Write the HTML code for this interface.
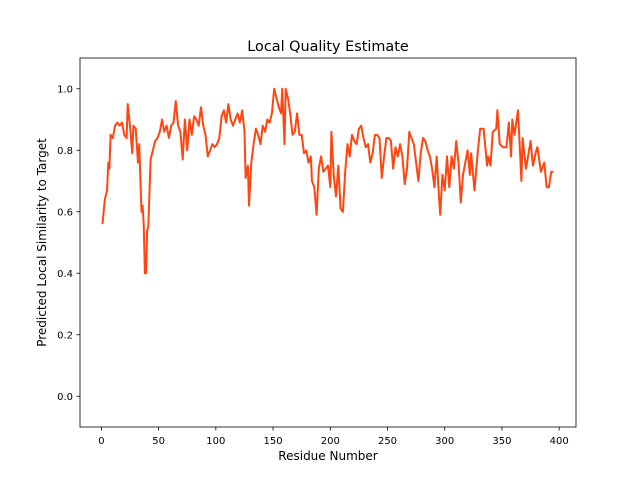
<!DOCTYPE html>
<html><head><meta charset="utf-8"><style>
body{margin:0;background:#fff}
svg text{font-family:"DejaVu Sans","Liberation Sans",sans-serif;fill:#000}
</style></head><body>
<svg id="chart" width="640" height="480" xmlns="http://www.w3.org/2000/svg">
<rect width="640" height="480" fill="#fff"/>
<text x="328" y="51" text-anchor="middle" font-size="14.4">Local Quality Estimate</text>
<g id="plot"></g>
<rect x="80" y="58" width="496" height="369" fill="none" stroke="#000" stroke-width="0.8"/>
<text x="328" y="460" text-anchor="middle" font-size="12">Residue Number</text>
<text transform="translate(46,242.5) rotate(-90)" text-anchor="middle" font-size="12">Predicted Local Similarity to Target</text>
</svg>
<script>
const residues=[1,3,5,6,7,8,10,12,14,16,18,20,22,23,25,27,28,30,32,33,35,36,37,38,39,40,41,43,45,47,49,51,53,55,57,59,61,63,65,67,69,71,73,75,77,79,81,83,85,87,89,91,93,95,97,99,101,103,105,107,109,111,113,115,117,119,121,123,125,126,128,129,131,133,135,137,139,141,143,145,147,149,151,153,155,157,158,160,161,163,165,167,169,171,173,175,177,179,181,183,184,186,188,190,192,194,196,198,200,201,203,205,207,209,211,213,215,217,219,221,223,225,227,229,231,233,235,237,239,241,243,245,247,249,251,253,255,257,259,261,263,265,267,269,271,273,275,277,279,281,283,285,287,289,291,293,295,296,298,300,302,304,306,308,310,312,314,316,320,322,323,326,329,331,334,337,338,340,342,345,346,348,351,354,356,358,359,361,364,367,368,371,375,377,380,381,384,387,389,391,393,395];
const scores=[0.56,0.64,0.67,0.76,0.74,0.85,0.84,0.88,0.89,0.88,0.89,0.85,0.84,0.95,0.88,0.79,0.88,0.87,0.76,0.82,0.6,0.62,0.56,0.40,0.40,0.54,0.55,0.77,0.8,0.83,0.84,0.86,0.9,0.86,0.88,0.84,0.88,0.89,0.96,0.88,0.86,0.77,0.9,0.8,0.9,0.85,0.91,0.9,0.88,0.94,0.88,0.85,0.78,0.8,0.82,0.81,0.82,0.84,0.91,0.93,0.89,0.95,0.9,0.88,0.9,0.92,0.89,0.93,0.86,0.71,0.75,0.62,0.76,0.82,0.87,0.85,0.82,0.88,0.86,0.9,0.89,0.92,1.0,0.97,0.94,0.92,1.0,0.82,1.0,0.97,0.92,0.85,0.86,0.92,0.85,0.85,0.79,0.8,0.76,0.78,0.7,0.68,0.59,0.74,0.78,0.73,0.74,0.75,0.68,0.86,0.72,0.65,0.75,0.61,0.6,0.73,0.82,0.78,0.85,0.83,0.82,0.87,0.88,0.84,0.81,0.82,0.76,0.79,0.85,0.85,0.84,0.71,0.78,0.84,0.84,0.83,0.74,0.81,0.78,0.82,0.78,0.69,0.74,0.86,0.84,0.82,0.76,0.70,0.79,0.84,0.83,0.8,0.78,0.74,0.68,0.78,0.65,0.59,0.72,0.67,0.78,0.68,0.78,0.74,0.83,0.76,0.63,0.72,0.80,0.72,0.79,0.67,0.80,0.87,0.87,0.75,0.78,0.75,0.86,0.87,0.93,0.82,0.81,0.81,0.89,0.78,0.90,0.85,0.93,0.70,0.84,0.74,0.83,0.75,0.80,0.81,0.73,0.76,0.68,0.68,0.73,0.73];
const xTicks=[0,50,100,150,200,250,300,350,400];
const yTicks=[0.0,0.2,0.4,0.6,0.8,1.0];
const yTickLabels=["0.0","0.2","0.4","0.6","0.8","1.0"];
const X0=80,X1=576,Y0=427,Y1=58,xmin=-18.7,xmax=414.7,ymin=-0.1,ymax=1.1;
const xs=v=>X0+(v-xmin)/(xmax-xmin)*(X1-X0);
const ys=v=>Y0-(v-ymin)/(ymax-ymin)*(Y0-Y1);
const NS="http://www.w3.org/2000/svg";
const g=document.getElementById('plot');
function mk(t,a){const e=document.createElementNS(NS,t);for(const k in a)e.setAttribute(k,a[k]);g.appendChild(e);return e;}
xTicks.forEach(t=>{
 const l=mk('line',{x1:xs(t),x2:xs(t),y1:427,y2:430.5,stroke:'#000','stroke-width':0.8});
 
 
 const tx=mk('text',{x:xs(t),y:444,'text-anchor':'middle','font-size':10});
 tx.textContent=t;
 
 
});
yTicks.forEach((t,i)=>{
 const l=mk('line',{x1:76.5,x2:80,y1:ys(t),y2:ys(t),stroke:'#000','stroke-width':0.8});
 
 
 const tx=mk('text',{x:73,y:ys(t)+3.5,'text-anchor':'end','font-size':10});
 tx.textContent=yTickLabels[i];
 
 
});
const pts=residues.map((r,i)=>xs(r).toFixed(1)+','+ys(scores[i]).toFixed(1)).join(' ');
const line=mk('polyline',{points:pts,fill:'none',stroke:'#ff4510','stroke-width':2,'stroke-linejoin':'round'});


</script>
</body></html>
